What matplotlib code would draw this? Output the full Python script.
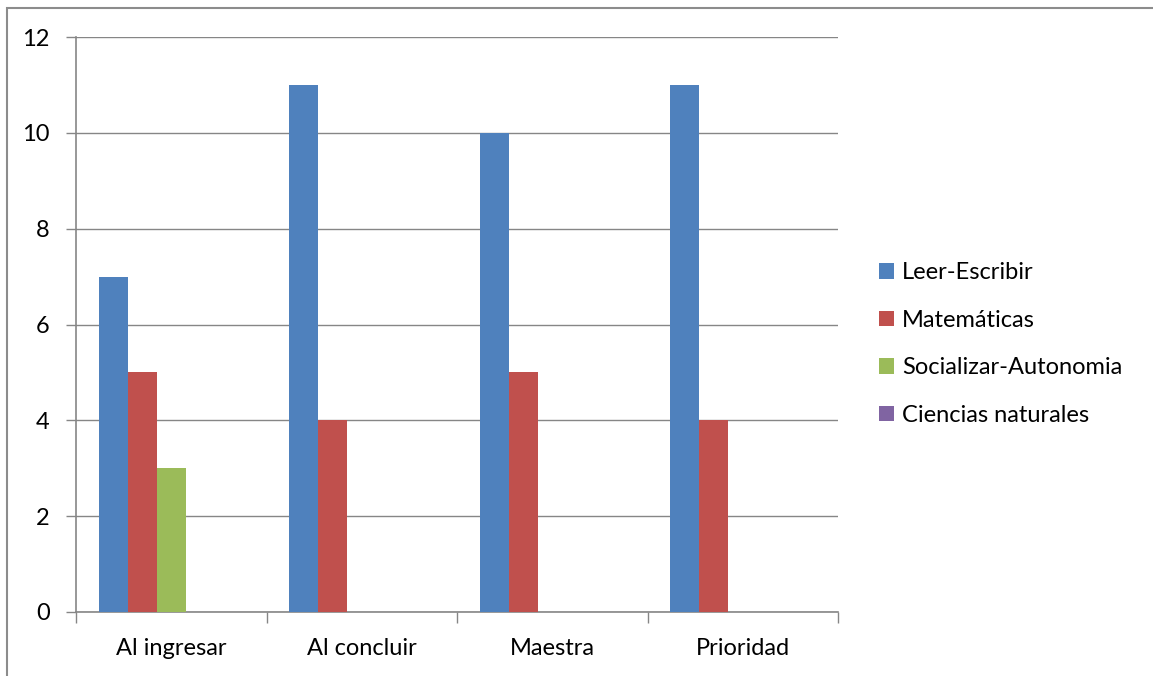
import numpy as np
import matplotlib.pyplot as plt
from matplotlib.patches import Patch, Rectangle

categories = ["Al ingresar", "Al concluir", "Maestra", "Prioridad"]
series_names = ["Leer-Escribir", "Matemáticas", "Socializar-Autonomia", "Ciencias naturales"]
leer_escribir = [7, 11, 10, 11]
matematicas = [5, 4, 5, 4]
socializar = [3, 0, 0, 0]
ciencias = [0, 0, 0, 0]
colors = ["#4F81BD", "#C0504D", "#9BBB59", "#8064A2"]

plt.rcParams["font.family"] = ["Lato", "DejaVu Sans"]
grid_color = "#868686"
fs = 17

fig = plt.figure(figsize=(11.53, 6.76), dpi=100)
ax = fig.add_axes([76 / 1153, 1 - 612 / 676, 762 / 1153, 575 / 676])

x = np.arange(len(categories))
width = 0.1523  # five slots per group, Excel-style gap
all_series = [leer_escribir, matematicas, socializar, ciencias]
for k, (vals, c) in enumerate(zip(all_series, colors)):
    ax.bar(x + (k - 2) * width, vals, width=width, color=c, align="center",
           zorder=3, linewidth=0)

ax.set_xlim(-0.5, len(categories) - 0.5)
ax.set_ylim(0, 12)
ax.set_yticks(range(0, 13, 2))
ax.yaxis.grid(True, color=grid_color, linewidth=1.0, zorder=0)

ax.set_xticks(np.arange(-0.5, len(categories), 1.0))
ax.set_xticklabels([])
ax.set_xticks(x, minor=True)
ax.set_xticklabels(categories, minor=True)
ax.tick_params(axis="x", which="major", length=8, color=grid_color, width=1, direction="out")
ax.tick_params(axis="x", which="minor", length=0, pad=19, labelsize=fs)
ax.tick_params(axis="y", length=7, color=grid_color, width=1, pad=12, labelsize=fs)

for side in ["top", "right"]:
    ax.spines[side].set_visible(False)
for side in ["left", "bottom"]:
    ax.spines[side].set_color(grid_color)
    ax.spines[side].set_linewidth(1.2)

handles = [Patch(facecolor=c, edgecolor="none") for c in colors]
fig.legend(handles, series_names, loc="upper left", bbox_to_anchor=(870 / 1153, 1 - 253 / 676),
           frameon=False, fontsize=fs, handlelength=0.62, handleheight=0.62,
           handletextpad=0.35, labelspacing=1.12, borderaxespad=0)

# outer chart border
fig.patches.append(Rectangle((7 / 1153, -0.1), 1.2, 1 - 8 / 676 + 0.1, transform=fig.transFigure,
                             fill=False, edgecolor="#8c8c8c", linewidth=1.5))

fig.savefig("out.png", dpi=100)
